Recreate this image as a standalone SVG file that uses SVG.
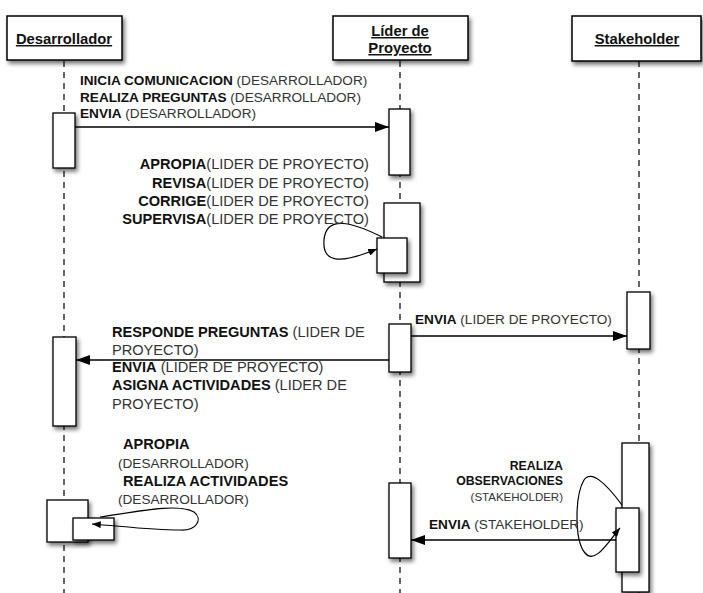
<svg xmlns="http://www.w3.org/2000/svg" width="703" height="593" viewBox="0 0 703 593">
  <defs>
    <filter id="shadow" x="-30%" y="-30%" width="170%" height="170%">
      <feDropShadow dx="2" dy="3" stdDeviation="2" flood-color="#000" flood-opacity="0.55"/>
    </filter>
    <marker id="arrow" viewBox="0 0 14 10" refX="14" refY="5" markerWidth="14" markerHeight="10" markerUnits="userSpaceOnUse" orient="auto">
      <path d="M0,0 L14,5 L0,10 Z" fill="#000"/>
    </marker>
    <marker id="arrowSmall" viewBox="0 0 10 8" refX="10" refY="4" markerWidth="9" markerHeight="7" markerUnits="userSpaceOnUse" orient="auto">
      <path d="M0,0 L10,4 L0,8 Z" fill="#000"/>
    </marker>
  </defs>
  <style>
    .head { fill: #fff; stroke: #000; stroke-width: 1.5; filter: url(#shadow); }
    .act { fill: #fff; stroke: #000; stroke-width: 1.3; filter: url(#shadow); }
    .life { stroke: #000; stroke-width: 1.2; stroke-dasharray: 6 5; fill: none; }
    .title { font-family: "Liberation Sans", Arial, sans-serif; font-size: 14.8px; font-weight: bold; text-decoration: underline; fill: #111; }
    .lbl { font-family: "Liberation Sans", Arial, sans-serif; font-size: 13.6px; fill: #333; }
    .lbl.big { font-size: 14.6px; }
    .lbl tspan.b { font-weight: bold; fill: #111; }
    .small { font-family: "Liberation Sans", Arial, sans-serif; font-size: 11.5px; fill: #333; }
    .small.b { font-size: 12.3px; font-weight: bold; fill: #111; }
    .msg { stroke: #000; stroke-width: 1.3; fill: none; marker-end: url(#arrow); }
    .loop { stroke: #000; stroke-width: 1.2; fill: none; marker-end: url(#arrowSmall); }
  </style>
  <rect width="703" height="593" fill="#fff"/>

  <!-- Desarrollador -->
  <g id="desarrollador">
    <line class="life" x1="64" y1="61" x2="64" y2="593"/>
    <rect class="head" x="7" y="16" width="115" height="44"/>
    <text class="title" x="64" y="44" text-anchor="middle">Desarrollador</text>
    <rect class="act" x="53" y="113" width="22" height="55"/>
    <rect class="act" x="53" y="337" width="23" height="89"/>
    <rect class="act" x="47" y="500" width="41" height="42"/>
    <rect class="act" x="73" y="518" width="41" height="22"/>
  </g>

  <!-- Líder de Proyecto -->
  <g id="lider">
    <line class="life" x1="400" y1="61" x2="400" y2="593"/>
    <rect class="head" x="333" y="16" width="135" height="44"/>
    <text class="title" x="400" y="36" text-anchor="middle">Líder de</text>
    <text class="title" x="400" y="53" text-anchor="middle">Proyecto</text>
    <rect class="act" x="389" y="109" width="21" height="66"/>
    <rect class="act" x="384" y="203" width="36" height="79"/>
    <rect class="act" x="377" y="238" width="30" height="35"/>
    <rect class="act" x="389" y="324" width="22" height="48"/>
    <rect class="act" x="389" y="483" width="22" height="75"/>
  </g>

  <!-- Stakeholder -->
  <g id="stakeholder">
    <line class="life" x1="639" y1="61" x2="639" y2="593"/>
    <rect class="head" x="572" y="16" width="129" height="45"/>
    <text class="title" x="637" y="44" text-anchor="middle">Stakeholder</text>
    <rect class="act" x="627" y="292" width="23" height="57"/>
    <rect class="act" x="622" y="443" width="27" height="149"/>
    <rect class="act" x="616" y="508" width="23" height="64"/>
  </g>

  <!-- Messages -->
  <g id="connectors">
    <line class="msg" x1="75" y1="127" x2="389" y2="127"/>
    <path class="loop" d="M382,237 C352,222 326,215 324,240 C322,266 345,262 377,249"/>
    <line class="msg" x1="411" y1="336" x2="627" y2="336"/>
    <line class="msg" x1="389" y1="360" x2="76" y2="360"/>
    <path class="loop" d="M100,517 C140,511 178,503 194,512 C203,519 197,531 180,530 C150,530 120,526 92,524"/>
    <path class="loop" d="M622,505 C605,482 591,470 584,480 C575,495 574,540 585,553 C595,565 608,542 620,528"/>
    <line class="msg" x1="616" y1="540" x2="411" y2="540"/>
  </g>

  <!-- Message labels -->
  <g id="labels">
    <text class="lbl" x="80" y="85"><tspan class="b">INICIA COMUNICACION</tspan> (DESARROLLADOR)</text>
    <text class="lbl" x="80" y="101.5"><tspan class="b">REALIZA PREGUNTAS</tspan> (DESARROLLADOR)</text>
    <text class="lbl" x="80" y="118"><tspan class="b">ENVIA</tspan> (DESARROLLADOR)</text>

    <text class="lbl big" x="369" y="169" text-anchor="end"><tspan class="b">APROPIA</tspan>(LIDER DE PROYECTO)</text>
    <text class="lbl big" x="369" y="187.5" text-anchor="end"><tspan class="b">REVISA</tspan>(LIDER DE PROYECTO)</text>
    <text class="lbl big" x="369" y="206" text-anchor="end"><tspan class="b">CORRIGE</tspan>(LIDER DE PROYECTO)</text>
    <text class="lbl big" x="369" y="224" text-anchor="end"><tspan class="b">SUPERVISA</tspan>(LIDER DE PROYECTO)</text>

    <text class="lbl" x="415" y="324"><tspan class="b">ENVIA</tspan> (LIDER DE PROYECTO)</text>

    <text class="lbl big" x="112" y="337"><tspan class="b">RESPONDE PREGUNTAS</tspan> (LIDER DE</text>
    <text class="lbl big" x="112" y="354.5">PROYECTO)</text>
    <text class="lbl big" x="112" y="372"><tspan class="b">ENVIA</tspan> (LIDER DE PROYECTO)</text>
    <text class="lbl big" x="112" y="390"><tspan class="b">ASIGNA ACTIVIDADES</tspan> (LIDER DE</text>
    <text class="lbl big" x="112" y="408.5">PROYECTO)</text>

    <text class="lbl big" x="123" y="448.5"><tspan class="b">APROPIA</tspan></text>
    <text class="lbl" x="118" y="467.5" font-size="14px">(DESARROLLADOR)</text>
    <text class="lbl big" x="123" y="485.5"><tspan class="b">REALIZA ACTIVIDADES</tspan></text>
    <text class="lbl" x="118" y="504" font-size="14px">(DESARROLLADOR)</text>

    <text class="small b" x="563" y="469.5" text-anchor="end">REALIZA</text>
    <text class="small b" x="563" y="485" text-anchor="end">OBSERVACIONES</text>
    <text class="small" x="563" y="500.5" text-anchor="end">(STAKEHOLDER)</text>

    <text class="lbl" x="429" y="529" font-size="14.4px"><tspan class="b">ENVIA</tspan> (STAKEHOLDER)</text>
  </g>
</svg>
